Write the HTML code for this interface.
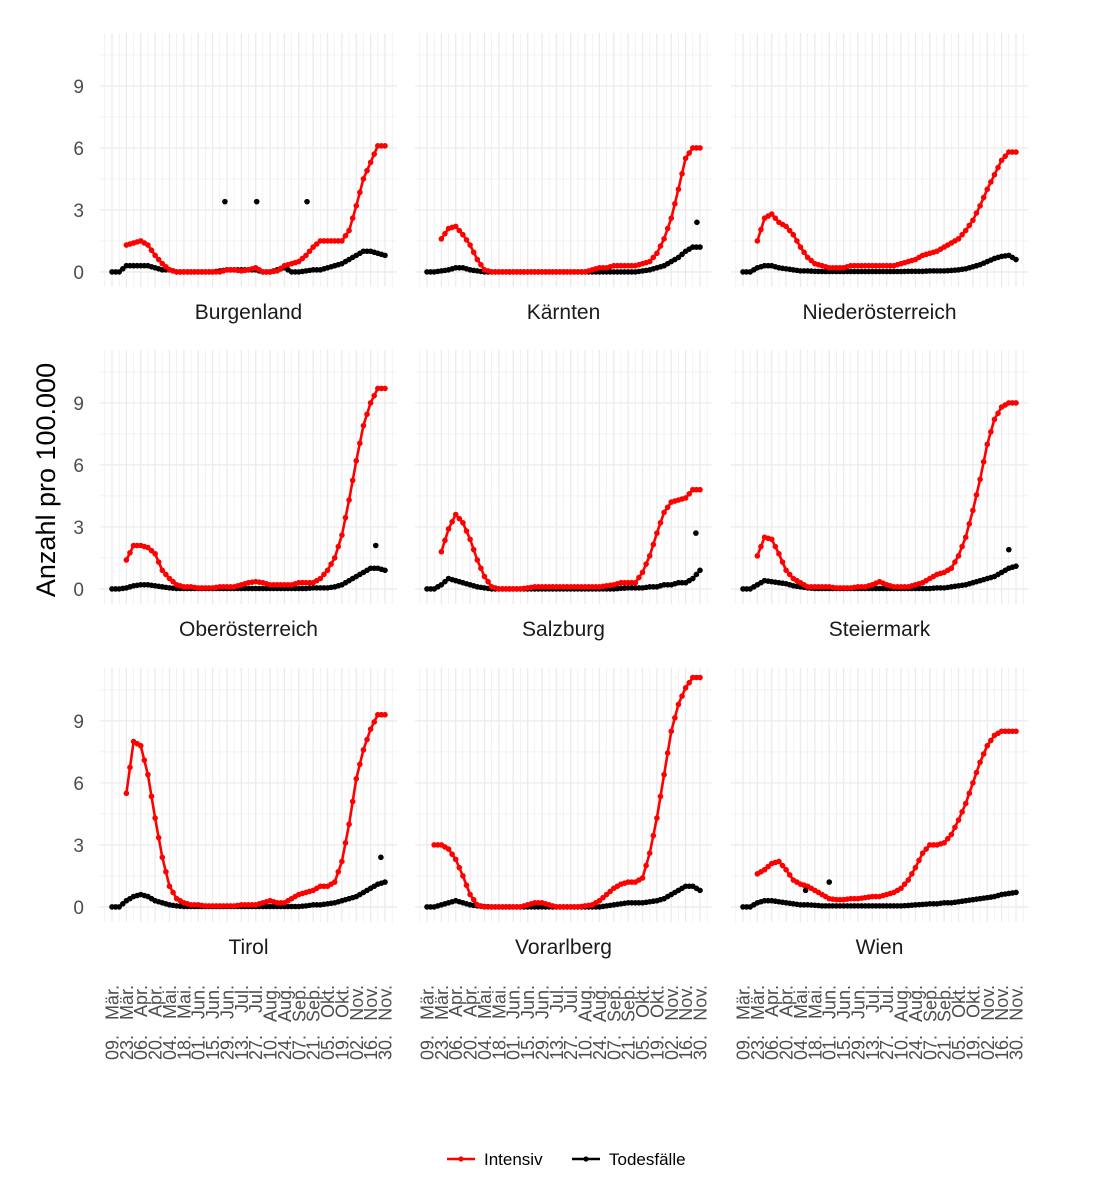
<!DOCTYPE html>
<html><head><meta charset="utf-8"><style>
body{margin:0;background:#fff;}
svg{display:block;font-family:"Liberation Sans",sans-serif;}
</style></head><body>
<svg id="c" width="1104" height="1200" viewBox="0 0 1104 1200"></svg>
<script>
const regions=["Burgenland","Kärnten","Niederösterreich","Oberösterreich","Salzburg","Steiermark","Tirol","Vorarlberg","Wien"];
const tickDays=["09.","23.","06.","20.","04.","18.","01.","15.","29.","13.","27.","10.","24.","07.","21.","05.","19.","02.","16.","30."];
const tickMonths=["Mär.","Mär.","Apr.","Apr.","Mai.","Mai.","Jun.","Jun.","Jun.","Jul.","Jul.","Aug.","Aug.","Sep.","Sep.","Okt.","Okt.","Nov.","Nov.","Nov."];
const yTicks=[0,3,6,9];
// weekly values starting 09. Mär. (index 0) to 30. Nov. (index 38)
const intensiv={
"Burgenland":[null,null,1.3,1.4,1.5,1.3,0.8,0.4,0.1,0,0,0,0,0,0,0,0.1,0.1,0.05,0.1,0.2,0,0,0.05,0.3,0.4,0.5,0.8,1.2,1.5,1.5,1.5,1.5,2.0,3.2,4.5,5.3,6.1,6.1],
"Kärnten":[null,null,1.6,2.1,2.2,1.8,1.3,0.6,0.1,0,0,0,0,0,0,0,0,0,0,0,0,0,0,0.1,0.2,0.2,0.3,0.3,0.3,0.3,0.4,0.5,0.9,1.6,2.6,4.0,5.5,6.0,6.0],
"Niederösterreich":[null,null,1.5,2.6,2.8,2.4,2.2,1.8,1.2,0.7,0.4,0.3,0.2,0.2,0.2,0.3,0.3,0.3,0.3,0.3,0.3,0.3,0.4,0.5,0.6,0.8,0.9,1.0,1.2,1.4,1.6,2.0,2.5,3.2,4.0,4.7,5.4,5.8,5.8],
"Oberösterreich":[null,null,1.4,2.1,2.1,2.0,1.7,0.9,0.5,0.2,0.1,0.1,0.05,0.05,0.05,0.1,0.1,0.1,0.2,0.3,0.35,0.3,0.2,0.2,0.2,0.2,0.3,0.3,0.3,0.5,0.9,1.5,2.6,4.3,6.2,7.9,9.0,9.7,9.7],
"Salzburg":[null,null,1.8,2.9,3.6,3.2,2.4,1.4,0.6,0.1,0,0,0,0,0.05,0.1,0.1,0.1,0.1,0.1,0.1,0.1,0.1,0.1,0.1,0.15,0.2,0.3,0.3,0.3,0.8,1.6,2.7,3.7,4.2,4.3,4.4,4.8,4.8],
"Steiermark":[null,null,1.6,2.5,2.4,1.7,0.9,0.5,0.3,0.1,0.1,0.1,0.1,0.05,0.05,0.05,0.1,0.1,0.2,0.35,0.2,0.1,0.1,0.1,0.2,0.3,0.5,0.7,0.8,1.0,1.6,2.5,3.8,5.3,7.0,8.2,8.8,9.0,9.0],
"Tirol":[null,null,5.5,8.0,7.8,6.4,4.3,2.4,1.0,0.4,0.2,0.1,0.1,0.05,0.05,0.05,0.05,0.05,0.1,0.1,0.1,0.2,0.3,0.2,0.2,0.4,0.6,0.7,0.8,1.0,1.0,1.2,2.2,4.0,6.2,7.6,8.6,9.3,9.3],
"Vorarlberg":[null,3.0,3.0,2.8,2.3,1.5,0.6,0.1,0,0,0,0,0,0,0.1,0.2,0.2,0.1,0,0,0,0,0.05,0.1,0.3,0.6,0.9,1.1,1.2,1.2,1.4,2.6,4.3,6.4,8.5,9.8,10.6,11.1,11.1],
"Wien":[null,null,1.6,1.8,2.1,2.2,1.8,1.3,1.1,1.0,0.8,0.6,0.4,0.35,0.35,0.4,0.4,0.45,0.5,0.5,0.6,0.7,0.9,1.3,1.9,2.6,3.0,3.0,3.1,3.5,4.2,5.0,6.0,7.0,7.8,8.3,8.5,8.5,8.5]};
const todes={
"Burgenland":[0,0,0.3,0.3,0.3,0.3,0.2,0.1,0.1,0,0,0,0,0,0,0.05,0.1,0.1,0.1,0.1,0.1,0,0,0.1,0.2,0,0,0.05,0.1,0.1,0.2,0.3,0.4,0.6,0.8,1.0,1.0,0.9,0.8],
"Kärnten":[0,0,0.05,0.1,0.2,0.2,0.1,0.05,0,0,0,0,0,0,0,0,0,0,0,0,0,0,0,0,0,0,0,0,0,0,0.05,0.1,0.2,0.3,0.5,0.7,1.0,1.2,1.2],
"Niederösterreich":[0,0,0.2,0.3,0.3,0.2,0.15,0.1,0.05,0.05,0.03,0.02,0.02,0.02,0.02,0.02,0.02,0.02,0.02,0.02,0.02,0.02,0.02,0.03,0.03,0.03,0.05,0.05,0.05,0.07,0.1,0.15,0.25,0.35,0.5,0.65,0.75,0.8,0.6],
"Oberösterreich":[0,0,0.05,0.15,0.2,0.2,0.15,0.1,0.05,0.02,0.02,0.02,0.02,0.02,0.02,0.02,0.02,0.02,0.02,0.02,0.02,0.02,0.02,0.02,0.02,0.02,0.02,0.02,0.05,0.05,0.05,0.1,0.2,0.4,0.6,0.8,1.0,1.0,0.9],
"Salzburg":[0,0,0.2,0.5,0.4,0.3,0.2,0.1,0.05,0,0,0,0,0,0,0,0,0,0,0,0,0,0,0,0,0,0,0.03,0.05,0.05,0.05,0.1,0.1,0.2,0.2,0.3,0.3,0.5,0.9],
"Steiermark":[0,0,0.2,0.4,0.35,0.3,0.25,0.15,0.1,0.05,0.02,0.02,0.02,0.02,0.02,0.02,0.02,0.02,0.02,0.02,0.02,0.02,0.02,0.02,0.02,0.02,0.02,0.05,0.05,0.1,0.15,0.2,0.3,0.4,0.5,0.6,0.8,1.0,1.1],
"Tirol":[0,0,0.3,0.5,0.6,0.5,0.3,0.2,0.1,0.05,0.02,0.02,0.02,0.02,0.02,0.02,0.02,0.02,0.02,0.02,0.02,0.02,0.02,0.02,0.02,0.02,0.02,0.05,0.1,0.1,0.15,0.2,0.3,0.4,0.5,0.7,0.9,1.1,1.2],
"Vorarlberg":[0,0,0.1,0.2,0.3,0.2,0.1,0.05,0.02,0,0,0,0,0,0,0,0,0,0,0,0,0,0,0,0,0.05,0.1,0.15,0.2,0.2,0.2,0.25,0.3,0.4,0.6,0.8,1.0,1.0,0.8],
"Wien":[0,0,0.2,0.3,0.3,0.25,0.2,0.15,0.1,0.1,0.08,0.05,0.05,0.05,0.05,0.05,0.05,0.05,0.05,0.05,0.05,0.05,0.05,0.07,0.1,0.12,0.15,0.15,0.2,0.2,0.25,0.3,0.35,0.4,0.45,0.5,0.6,0.65,0.7]};
// isolated daily outliers (region, day offset from 09. Mär., value)
const outlierRegion=["Burgenland","Burgenland","Burgenland","Kärnten","Salzburg","Oberösterreich","Steiermark","Tirol","Wien","Wien"];
const outlierDay=[110,141,190,263,262,257,259,262,61,84];
const outlierVal=[3.4,3.4,3.4,2.4,2.7,2.1,1.9,2.4,0.8,1.2];

const NS="http://www.w3.org/2000/svg";
const svg=document.getElementById('c');
function mk(tag,attrs,parent){const e=document.createElementNS(NS,tag);for(const k in attrs)e.setAttribute(k,attrs[k]);(parent||svg).appendChild(e);return e;}
const colL=[100,415,731], rowT=[33,350,668], PW=297, PH=254;
const Y0=-0.73, Y1=11.56, pxDay=273/266;
function xs(left,day){return left+12+day*pxDay;}
function ys(top,v){return top+PH-(v-Y0)/(Y1-Y0)*PH;}
regions.forEach((r,i)=>{
  const L=colL[i%3], T=rowT[Math.floor(i/3)];
  const g=mk('g',{});
  
  
  for(let v=-1.5;v<=11.5;v+=1.5){ if(v<Y0||v>Y1)continue; const y=ys(T,v); const maj=yTicks.includes(v);
    mk('line',{x1:L,x2:L+PW,y1:y,y2:y,stroke:'#ebebeb','stroke-width':maj?1.3:0.6},g);}
  for(let d=-7;d<=280;d+=7){const x=xs(L,d); if(x<L||x>L+PW)continue; const maj=(d%14===0);
    mk('line',{x1:x,x2:x,y1:T,y2:T+PH,stroke:'#ebebeb','stroke-width':maj?1.3:0.6},g);}
  [[todes[r],'#000','todesfaelle'],[intensiv[r],'#ff0000','intensiv']].forEach(([arr,col,nm])=>{
    let d='';arr.forEach((v,k)=>{if(v==null)return;d+=(d?'L':'M')+xs(L,k*7).toFixed(1)+','+ys(T,v).toFixed(1);});
    const p=mk('path',{d:d,fill:'none',stroke:col,'stroke-width':2.6,'stroke-linejoin':'round'},g);
    
    
    arr.forEach((v,k)=>{if(v==null)return;
      const c=mk('circle',{cx:xs(L,k*7),cy:ys(T,v),r:2.8,fill:col},g);
      
      
      if(k<arr.length-1&&arr[k+1]!=null){const c2=mk('circle',{cx:xs(L,k*7+3.5),cy:ys(T,(v+arr[k+1])/2),r:2.8,fill:col},g);
        
        }
    });
  });
  outlierRegion.forEach((rr,k)=>{ if(rr!==r)return;
    const c=mk('circle',{cx:xs(L,outlierDay[k]),cy:ys(T,outlierVal[k]),r:2.8,fill:'#000'},g);
    
    
  });
  const t=mk('text',{x:L+PW/2,y:T+PH+32,'text-anchor':'middle','font-size':21,fill:'#1a1a1a'},g);
  t.textContent=r;
  
  
  if(i%3===0){yTicks.forEach(v=>{const yt=mk('text',{x:84,y:ys(T,v)+7,'text-anchor':'end','font-size':19,fill:'#4d4d4d'});yt.textContent=v;
    
    });}
  if(i>=6){tickDays.forEach((dd,k)=>{const x=xs(L,k*14)+6.5;
    const tm=mk('text',{x:0,y:0,transform:`translate(${x},985) rotate(-90)`,'text-anchor':'end','font-size':18,fill:'#4d4d4d'});tm.textContent=tickMonths[k];
    
    
    const td=mk('text',{x:0,y:0,transform:`translate(${x},1060) rotate(-90)`,'text-anchor':'start','font-size':18,fill:'#4d4d4d'});td.textContent=dd;
    
    });}
});
const yt=mk('text',{transform:'translate(55,480) rotate(-90)','text-anchor':'middle','font-size':27,fill:'#000'});
yt.textContent='Anzahl pro 100.000';


[[447,'#ff0000','Intensiv','legend-intensiv'],[572,'#000','Todesfälle','legend-todesfaelle']].forEach(([x,col,lab,nm])=>{
  const g=mk('g',{});
  
  
  mk('line',{x1:x,x2:x+28,y1:1159,y2:1159,stroke:col,'stroke-width':2.6},g);
  mk('circle',{cx:x+14,cy:1159,r:2.6,fill:col},g);
  const t=mk('text',{x:x+37,y:1165,'font-size':17,fill:'#000'},g);t.textContent=lab;
});
</script>
</body></html>
